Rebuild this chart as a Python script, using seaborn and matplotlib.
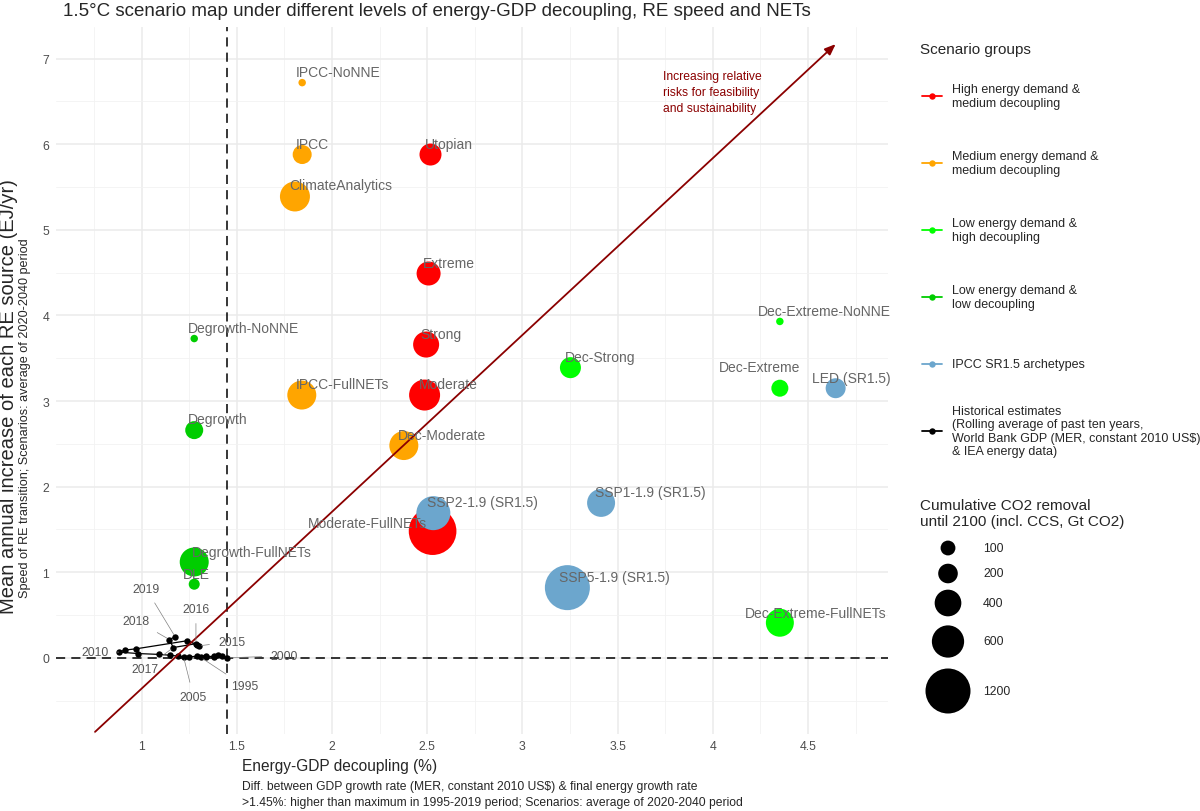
import numpy as np
import pandas as pd
import matplotlib
matplotlib.use("Agg")
import matplotlib.pyplot as plt
import seaborn as sns

# ---- scenario data ----
scenarios = ['Utopian', 'Extreme', 'Strong', 'Moderate', 'Moderate-FullNETs',
             'IPCC-NoNNE', 'IPCC', 'ClimateAnalytics', 'IPCC-FullNETs', 'Dec-Moderate',
             'Dec-Extreme-NoNNE', 'Dec-Strong', 'Dec-Extreme', 'Dec-Extreme-FullNETs',
             'Degrowth-NoNNE', 'Degrowth', 'Degrowth-FullNETs', 'DLE',
             'LED (SR1.5)', 'SSP1-1.9 (SR1.5)', 'SSP2-1.9 (SR1.5)', 'SSP5-1.9 (SR1.5)']
groups = ['High energy demand &\nmedium decoupling'] * 5 + \
         ['Medium energy demand &\nmedium decoupling'] * 5 + \
         ['Low energy demand &\nhigh decoupling'] * 4 + \
         ['Low energy demand &\nlow decoupling'] * 4 + \
         ['IPCC SR1.5 archetypes'] * 4
decoupling = [2.517, 2.507, 2.494, 2.486, 2.528,
              1.843, 1.843, 1.805, 1.841, 2.377,
              4.352, 3.252, 4.352, 4.352,
              1.276, 1.276, 1.276, 1.276,
              4.645, 3.413, 2.532, 3.236]
re_speed = [5.88, 4.49, 3.66, 3.07, 1.48,
            6.72, 5.88, 5.39, 3.07, 2.48,
            3.93, 3.39, 3.15, 0.41,
            3.73, 2.66, 1.12, 0.86,
            3.15, 1.81, 1.69, 0.82]
co2_removal = [261, 317, 378, 551, 1350,
               0, 186, 514, 478, 478,
               0, 235, 142, 443,
               0, 163, 478, 40,
               209, 443, 670, 1200]

# ---- historical estimates (10-yr rolling averages) ----
hist_years = list(range(1995, 2020))
hist_decoupling = [1.31, 1.34, 1.38, 1.40, 1.42, 1.45, 1.38, 1.34, 1.29, 1.25,
                   1.22, 1.19, 1.15, 1.09, 0.98, 0.88, 0.91, 0.97, 1.24, 1.29,
                   1.30, 1.285, 1.166, 1.145, 1.176]
hist_re_speed = [0.005, 0.01, 0.02, 0.03, 0.02, 0.00, 0.01, 0.02, 0.02, 0.01,
                 0.01, 0.02, 0.03, 0.04, 0.05, 0.067, 0.09, 0.105, 0.20, 0.155,
                 0.14, 0.165, 0.12, 0.214, 0.245]
labelled_years = [1995, 2000, 2005, 2010, 2015, 2016, 2017, 2018, 2019]

group_colors = {
    'High energy demand &\nmedium decoupling': '#FF0000',
    'Medium energy demand &\nmedium decoupling': '#FFA500',
    'Low energy demand &\nhigh decoupling': '#00FF00',
    'Low energy demand &\nlow decoupling': '#00CD00',
    'IPCC SR1.5 archetypes': '#6CA6CD',
}
hist_label = ('Historical estimates\n(Rolling average of past ten years,\n'
              'World Bank GDP (MER, constant 2010 US\\$)\n& IEA energy data)')
size_breaks = [100, 200, 400, 600, 1200]

# marker area (pt^2) is linear in CO2 removal
AREA_AT_ZERO, AREA_AT_1200 = 29, 1050
def marker_area(v):
    return AREA_AT_ZERO + v / 1200 * (AREA_AT_1200 - AREA_AT_ZERO)

# label offsets in pixels (x, up) relative to the point; default (-6, 11, left)
label_offsets = {
    'Moderate-FullNETs': (-6, 8, 'right'),
    'Degrowth-FullNETs': (-2, 10, 'left'),
    'DLE': (-11, 10, 'left'),
    'Dec-Extreme': (20, 21, 'right'),
    'Dec-Extreme-NoNNE': (-22, 10, 'left'),
    'LED (SR1.5)': (-24, 10, 'left'),
    'SSP5-1.9 (SR1.5)': (-8, 11, 'left'),
    'Dec-Extreme-FullNETs': (-35, 10, 'left'),
}
year_offsets = {1995: (44, -29), 2000: (57, 2), 2005: (10, -40), 2010: (-24, 0),
                2015: (33, 4), 2016: (0, 35), 2017: (-28, -21), 2018: (-33, 19),
                2019: (-29, 48)}

df = pd.DataFrame({'scenario': scenarios, 'group': groups, 'x': decoupling,
                   'y': re_speed, 'co2': co2_removal})
hist = pd.DataFrame({'year': hist_years, 'x': hist_decoupling, 'y': hist_re_speed})

sns.set_style('white')
plt.rcParams['font.family'] = ['Liberation Sans', 'DejaVu Sans']

PX = 0.72  # points per pixel at dpi 100
fig = plt.figure(figsize=(12, 8.12), dpi=100)
ax = fig.add_axes([56 / 1200, 1 - 735 / 812, (888 - 56) / 1200, (735 - 28) / 812])

ax.set_xlim(0.55, 4.92)
ax.set_ylim(-0.89, 7.37)
ax.set_xticks(np.arange(1, 4.6, 0.5))
ax.set_xticks(np.arange(0.75, 4.9, 0.5), minor=True)
ax.set_yticks(np.arange(0, 8, 1))
ax.set_yticks(np.arange(-0.5, 7.4, 1), minor=True)
ax.set_xticklabels(['1', '1.5', '2', '2.5', '3', '3.5', '4', '4.5'])
ax.grid(which='major', color='#EBEBEB', lw=1.1)
ax.grid(which='minor', color='#F2F2F2', lw=0.6)
ax.tick_params(which='both', length=0, labelsize=8.8, labelcolor='#4D4D4D')
ax.tick_params(axis='x', pad=4)
ax.tick_params(axis='y', pad=5)
for s in ax.spines.values():
    s.set_visible(False)
ax.set_axisbelow(True)

ax.axvline(1.45, color='black', lw=1.1, ls=(0, (6, 4)), zorder=1)
ax.axhline(0, color='black', lw=1.1, ls=(0, (6, 4)), zorder=1)

# historical path
sns.lineplot(data=hist, x='x', y='y', sort=False, estimator=None, color='black',
             lw=0.9, marker='o', markersize=4.6, markeredgewidth=0, ax=ax, zorder=3)
for yr in labelled_years:
    row = hist[hist['year'] == yr].iloc[0]
    dx, dy = year_offsets[yr]
    ax.annotate(str(yr), xy=(row['x'], row['y']), xytext=(dx * PX, dy * PX),
                textcoords='offset points', ha='center', va='center',
                fontsize=8.7, color='#555555', zorder=6,
                arrowprops=dict(arrowstyle='-', color='#808080', lw=0.5,
                                shrinkA=4, shrinkB=2))

# scenario bubbles
sns.scatterplot(data=df, x='x', y='y', hue='group', palette=group_colors,
                size='co2', sizes=(marker_area(df['co2'].min()), marker_area(df['co2'].max())),
                size_norm=(df['co2'].min(), df['co2'].max()),
                linewidth=0, alpha=1, legend=False, ax=ax, zorder=4)

for _, r in df.iterrows():
    dx, dy, ha = label_offsets.get(r['scenario'], (-6, 11, 'left'))
    ax.annotate(r['scenario'], xy=(r['x'], r['y']), xytext=(dx * PX, dy * PX),
                textcoords='offset points', ha=ha, va='center',
                fontsize=10, color='#666666', zorder=7)

# risk arrow
ARROW_START, ARROW_END = (0.755, -0.865), (4.645, 7.17)
ax.annotate('', xy=ARROW_END, xytext=ARROW_START, zorder=5,
            arrowprops=dict(arrowstyle='-|>,head_length=0.5,head_width=0.2',
                            color='#8B0000', lw=1.3,
                            mutation_scale=13, shrinkA=0, shrinkB=0))
ax.text(3.737, 6.61, 'Increasing relative\nrisks for feasibility\nand sustainability',
        ha='left', va='center', fontsize=8.7, color='#8B0000', linespacing=1.45)

ax.set_xlabel('')
ax.set_ylabel('')

# titles
fig.text(63 / 1200, 1 - 12 / 812,
         '1.5°C scenario map under different levels of energy-GDP decoupling, RE speed and NETs',
         ha='left', va='center', fontsize=13.5)
fig.text(242 / 1200, 1 - 767 / 812, 'Energy-GDP decoupling (%)', ha='left', va='center', fontsize=11.2)
fig.text(242 / 1200, 1 - 787 / 812,
         'Diff. between GDP growth rate (MER, constant 2010 US\\$) & final energy growth rate',
         ha='left', va='center', fontsize=8.7)
fig.text(242 / 1200, 1 - 803 / 812,
         '>1.45%: higher than maximum in 1995-2019 period; Scenarios: average of 2020-2040 period',
         ha='left', va='center', fontsize=8.7)
fig.text(9 / 1200, 1 - 614 / 812, 'Mean annual increase of each RE source (EJ/yr)',
         rotation=90, ha='center', va='bottom', fontsize=14.5)
fig.text(25 / 1200, 1 - 598 / 812, 'Speed of RE transition; Scenarios: average of 2020-2040 period',
         rotation=90, ha='center', va='bottom', fontsize=9.1)

# legends drawn in a pixel-space overlay
lax = fig.add_axes([0, 0, 1, 1], zorder=10)
lax.set_xlim(0, 1200)
lax.set_ylim(812, 0)
lax.axis('off')
lax.text(920, 50, 'Scenario groups', ha='left', va='center', fontsize=11)
leg_items = list(group_colors.items()) + [(hist_label, 'black')]
for i, (lab, col) in enumerate(leg_items):
    yc = 97 + i * 67
    lax.plot([922, 942], [yc, yc], color=col, lw=1.3)
    lax.plot([932], [yc], 'o', color=col, markersize=4.6, markeredgewidth=0)
    lax.text(952, yc, lab, ha='left', va='center', fontsize=9, linespacing=1.15)

lax.text(920, 514, 'Cumulative CO2 removal\nuntil 2100 (incl. CCS, Gt CO2)',
         ha='left', va='center', fontsize=11, linespacing=1.1)
size_y = [549, 574.5, 604, 642.5, 692]
lax.scatter([948] * len(size_breaks), size_y, s=[marker_area(v) for v in size_breaks],
            color='black', linewidth=0)
for v, yc in zip(size_breaks, size_y):
    lax.text(983, yc, str(v), ha='left', va='center', fontsize=8.8)

fig.savefig('out.png', dpi=100)
